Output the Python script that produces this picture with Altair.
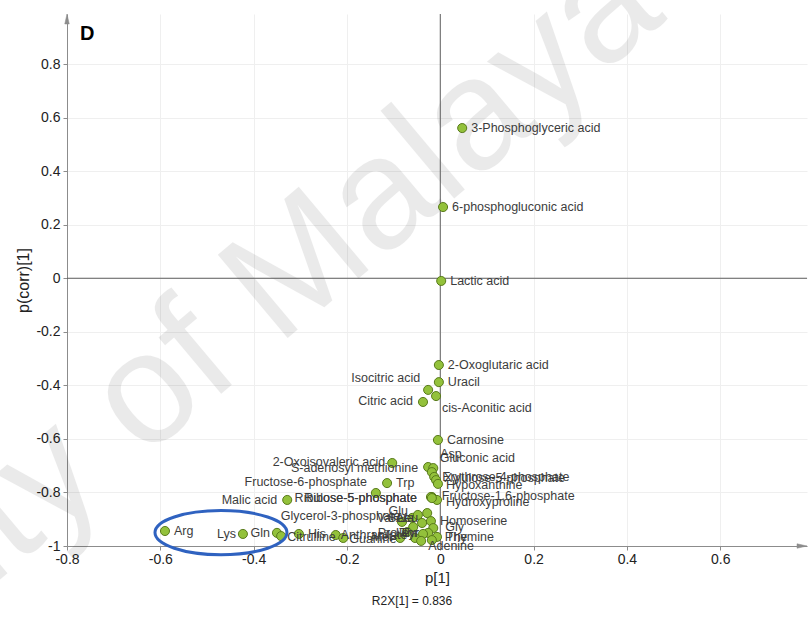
import altair as alt
import pandas as pd

# ---- loadings: p[1] (x) and p(corr)[1] (y) per metabolite ----
metabolites = [
    "3-Phosphoglyceric acid", "6-phosphogluconic acid", "Lactic acid",
    "2-Oxoglutaric acid", "Uracil", "Isocitric acid", "cis-Aconitic acid",
    "Citric acid", "Carnosine", "2-Oxoisovaleric acid", "S-adenosyl methionine",
    "Asp", "Gluconic acid", "Erythrose-4-phosphate", "Xylulose-5-phosphate",
    "Hypoxanthine", "Trp", "Fructose-6-phosphate", "Fructose-1,6-phosphate",
    "Hydroxyproline", "Ribulose-5-phosphate", "Ribose-5-phosphate", "Malic acid",
    "Glycerol-3-phosphate", "Glu", "Leu", "Ala", "Val", "Ser", "Homoserine",
    "Gly", "Pro", "Tyr", "Thr", "Ile", "Met", "Thymine", "Phe", "Adenine",
    "Arg", "Lys", "Gln", "Citrulline", "His", "Anthranilate", "Guanine",
]
p1 = [
    0.047, 0.006, 0.002,
    -0.003, -0.003, -0.026, -0.009,
    -0.037, -0.005, -0.103, -0.026,
    -0.015, -0.018, -0.013, -0.009,
    -0.005, -0.114, -0.138, -0.018,
    -0.007, -0.020, -0.018, -0.328,
    -0.060, -0.048, -0.028, -0.039, -0.082, -0.058, -0.020,
    -0.015, -0.071, -0.026, -0.037, -0.054, -0.086, -0.007, -0.018, -0.041,
    -0.590, -0.423, -0.350, -0.341, -0.303, -0.224, -0.208,
]
pcorr = [
    0.561, 0.266, -0.010,
    -0.324, -0.388, -0.417, -0.440,
    -0.462, -0.604, -0.690, -0.705,
    -0.709, -0.724, -0.742, -0.754,
    -0.768, -0.765, -0.802, -0.817,
    -0.828, -0.817, -0.821, -0.828,
    -0.895, -0.884, -0.877, -0.914, -0.910, -0.929, -0.907,
    -0.933, -0.948, -0.951, -0.955, -0.970, -0.970, -0.966, -0.978, -0.981,
    -0.944, -0.955, -0.951, -0.963, -0.955, -0.959, -0.970,
]
highlighted = ["Arg", "Lys", "Gln"]

x_ticks = [-0.8, -0.6, -0.4, -0.2, 0.0, 0.2, 0.4, 0.6]
y_ticks = [-1.0, -0.8, -0.6, -0.4, -0.2, 0.0, 0.2, 0.4, 0.6, 0.8]
x_title = "p[1]"
y_title = "p(corr)[1]"
panel_letter = "D"
r2x_note = "R2X[1] = 0.836"
watermark = "University of Malaya"

# ---- layout / style ----
X_DOMAIN = [-0.8, 0.786]
Y_DOMAIN = [-1.0, 0.987]
W, H = 740, 532
PX_X = W / (X_DOMAIN[1] - X_DOMAIN[0])
PX_Y = H / (Y_DOMAIN[1] - Y_DOMAIN[0])
FONT = "Liberation Sans, Arial, Helvetica, sans-serif"
AXIS_GREY = "#8c8c8c"

# label placement: (side, dx px, dy px); default is to the right of the point
LABEL_PLACEMENT = {
    "Isocitric acid": ("left", -8, -12),
    "cis-Aconitic acid": ("right", 6, 12),
    "Citric acid": ("left", -10, -1),
    "2-Oxoisovaleric acid": ("left", -7, -1),
    "S-adenosyl methionine": ("left", -10, 1),
    "Asp": ("right", 7, -14),
    "Gluconic acid": ("right", 8, -14),
    "Erythrose-4-phosphate": ("right", 8, 0),
    "Xylulose-5-phosphate": ("right", 8, -2),
    "Hypoxanthine": ("right", 8, 1),
    "Fructose-6-phosphate": ("left", -9, -11),
    "Fructose-1,6-phosphate": ("right", 10, -1),
    "Hydroxyproline": ("right", 9, 2),
    "Ribulose-5-phosphate": ("left", -14, 1),
    "Ribose-5-phosphate": ("left", -15, 0),
    "Malic acid": ("left", -10, 0),
    "Glycerol-3-phosphate": ("left", -12, -2),
    "Glu": ("left", -10, -4),
    "Leu": ("left", -9, 5),
    "Ala": ("left", -8, -5),
    "Val": ("left", -8, -4),
    "Ser": ("left", -6, -9),
    "Homoserine": ("right", 9, 0),
    "Gly": ("right", 12, -1),
    "Pro": ("left", -10, 1),
    "Tyr": ("left", -9, 0),
    "Thr": ("left", -5, -1),
    "Ile": ("left", -6, -5),
    "Met": ("left", -8, -1),
    "Thymine": ("right", 9, 0),
    "Phe": ("right", 13, -3),
    "Adenine": ("right", 7, 5),
    "Lys": ("left", -7, 0),
    "Gln": ("left", -7, 0),
    "Citrulline": ("right", 6, 1),
    "Anthranilate": ("right", 5, 0),
    "Guanine": ("right", 6, 1),
}

df = pd.DataFrame({"name": metabolites, "p1": p1, "pcorr": pcorr})
place = [LABEL_PLACEMENT.get(n, ("right", 9, 0)) for n in metabolites]
df["side"] = [p[0] for p in place]
df["lx"] = df["p1"] + [p[1] / PX_X for p in place]
df["ly"] = df["pcorr"] - pd.Series([p[2] / PX_Y for p in place])

x_scale = alt.Scale(domain=X_DOMAIN, nice=False, zero=False)
y_scale = alt.Scale(domain=Y_DOMAIN, nice=False, zero=False)
common_axis = dict(
    labelFont=FONT, labelFontSize=14, labelColor="#222222",
    titleFont=FONT, titleFontWeight="normal", titleColor="#222222",
    domainColor=AXIS_GREY, tickColor=AXIS_GREY, tickSize=4,
    gridColor="#efefef", grid=True, labelFlush=False,
    labelExpr="datum.value == 0 ? '0' : toString(round(datum.value * 10) / 10)",
)
x_axis = alt.Axis(title=x_title, values=x_ticks, titleFontSize=15,
                  labelPadding=2, titlePadding=4, **common_axis)
y_axis = alt.Axis(title=y_title, values=y_ticks, titleFontSize=16,
                  labelPadding=3, titlePadding=4, **common_axis)


def X(field):
    return alt.X(field, type="quantitative", scale=x_scale, axis=x_axis)


def Y(field):
    return alt.Y(field, type="quantitative", scale=y_scale, axis=y_axis)


one = pd.DataFrame({"k": [0]})

# faint diagonal watermark, translucent so the axis text stays readable
wm = alt.Chart(one).mark_text(
    text=watermark, angle=320, fontSize=158, font=FONT, color="#000000",
    opacity=0.08, align="center", baseline="middle",
).encode(x=alt.value(26), y=alt.value(426))

# zero reference lines
zero = pd.DataFrame({"v": [0.0]})
vline = alt.Chart(zero).mark_rule(color="#5e5e5e", strokeWidth=1).encode(x=X("v"))
hline = alt.Chart(zero).mark_rule(color="#5e5e5e", strokeWidth=1).encode(y=Y("v"))

points = alt.Chart(df).mark_point(
    shape="circle", filled=True, size=82, fill="#93c13b", stroke="#587a1a",
    strokeWidth=1, opacity=1,
).encode(x=X("p1"), y=Y("pcorr"))

label_style = dict(font=FONT, fontSize=12.5, color="#3c3c3c", baseline="middle")
labels_r = alt.Chart(df).transform_filter(alt.datum.side == "right").mark_text(
    align="left", **label_style).encode(x=X("lx"), y=Y("ly"), text="name:N")
labels_l = alt.Chart(df).transform_filter(alt.datum.side == "left").mark_text(
    align="right", **label_style).encode(x=X("lx"), y=Y("ly"), text="name:N")

# ellipse around the highlighted group
hl = df[df["name"].isin(highlighted)]
ell = pd.DataFrame({
    "cx": [(hl["p1"].min() + hl["p1"].max()) / 2],
    "cy": [hl["pcorr"].mean()],
})
ell_w = (hl["p1"].max() - hl["p1"].min()) * PX_X + 20
b, k = 0.335, 0.5523
ellipse_path = (
    f"M 1 0 C 1 {k*b:.4f} {k} {b} 0 {b} "
    f"C {-k} {b} -1 {k*b:.4f} -1 0 "
    f"C -1 {-k*b:.4f} {-k} {-b} 0 {-b} "
    f"C {k} {-b} 1 {-k*b:.4f} 1 0 Z"
)
ellipse = alt.Chart(ell).mark_point(
    shape=ellipse_path, size=ell_w ** 2, filled=False, stroke="#2f62c0",
    strokeWidth=3, opacity=1,
).encode(x=X("cx"), y=Y("cy"))

# axis arrowheads
arrow_up = alt.Chart(pd.DataFrame({
    "ax": [X_DOMAIN[0]], "ay": [Y_DOMAIN[1] - 5 / PX_Y]})).mark_point(
    shape="M 0 -1 L 0.45 1 L -0.45 1 Z", size=100, filled=True,
    fill=AXIS_GREY, stroke=AXIS_GREY, strokeWidth=0.5, opacity=1,
).encode(x=X("ax"), y=Y("ay"))
arrow_right = alt.Chart(pd.DataFrame({
    "ax": [X_DOMAIN[1] - 5 / PX_X], "ay": [Y_DOMAIN[0]]})).mark_point(
    shape="M 1 0 L -1 0.45 L -1 -0.45 Z", size=100, filled=True,
    fill=AXIS_GREY, stroke=AXIS_GREY, strokeWidth=0.5, opacity=1,
).encode(x=X("ax"), y=Y("ay"))

letter = alt.Chart(one).mark_text(
    text=panel_letter, font=FONT, fontSize=20, fontWeight="bold", color="#000000",
    align="left", baseline="middle",
).encode(x=alt.value(13), y=alt.value(20))

note = alt.Chart(one).mark_text(
    text=r2x_note, font=FONT, fontSize=12, color="#222222",
    align="center", baseline="middle",
).encode(x=alt.value(345), y=alt.value(587))

chart = alt.layer(
    wm, vline, hline, points, labels_r, labels_l, ellipse,
    arrow_up, arrow_right, letter, note,
).properties(
    width=W, height=H,
    autosize=alt.AutoSizeParams(type="none"),
    padding={"left": 67, "top": 14, "right": 3, "bottom": 74},
    background="white",
).configure_view(stroke=None)

chart.save("out.html", embed_options={"renderer": "svg", "actions": False})
